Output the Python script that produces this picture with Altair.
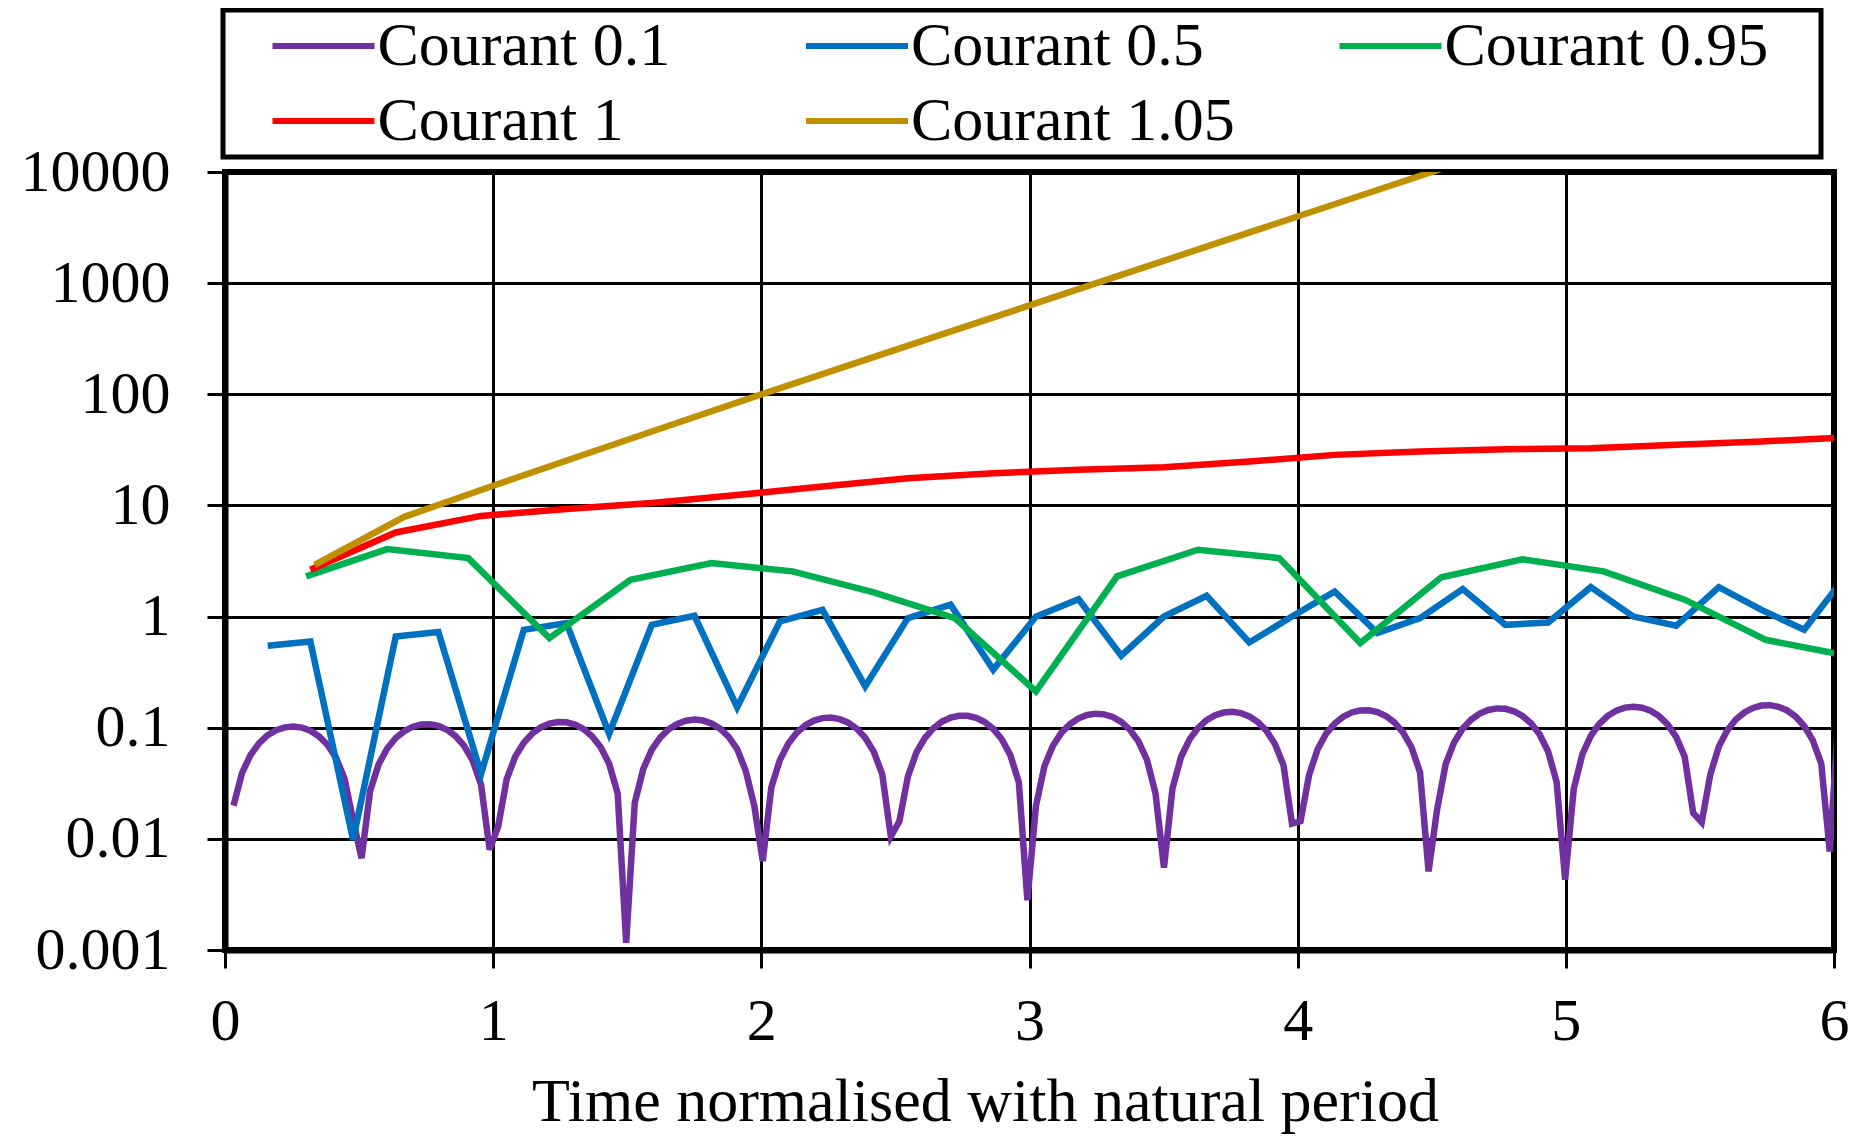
import altair as alt
import pandas as pd

SERIES = ["Courant 0.1", "Courant 0.5", "Courant 0.95", "Courant 1", "Courant 1.05"]
COLORS = ["#7030A0", "#0070C0", "#00B050", "#FF0000", "#BF9000"]
# spacing of the vertices of each series along the normalised time axis
STEPS = [0.031831, 0.159155, 0.302394, 0.318310, 0.334225]

courant_01 = [
    0.0199, 0.0392, 0.0570, 0.0727, 0.0856, 0.0951, 0.1008, 0.1026, 0.1003, 0.0939,
    0.0838, 0.0702, 0.0538, 0.0350, 0.0148, 0.0067, 0.0270, 0.0469, 0.0650, 0.0807,
    0.0932, 0.1021, 0.1069, 0.1075, 0.1038, 0.0959, 0.0842, 0.0690, 0.0509, 0.0307,
    0.0080, 0.0129, 0.0345, 0.0550, 0.0733, 0.0888, 0.1008, 0.1090, 0.1127, 0.1120,
    0.1069, 0.0973, 0.0839, 0.0670, 0.0474, 0.0257, 0.00116, 0.0210, 0.0426, 0.0634,
    0.0818, 0.0970, 0.1084, 0.1156, 0.1182, 0.1160, 0.1093, 0.0981, 0.0829, 0.0643,
    0.0410, 0.0200, 0.0063, 0.0290, 0.0511, 0.0721, 0.0905, 0.1053, 0.1159, 0.1220,
    0.1233, 0.1195, 0.1113, 0.0982, 0.0812, 0.0609, 0.0381, 0.0105, 0.0144, 0.0364,
    0.0599, 0.0811, 0.0992, 0.1134, 0.1231, 0.1281, 0.1279, 0.1225, 0.1124, 0.0975,
    0.0787, 0.0567, 0.0323, 0.0028, 0.0197, 0.0452, 0.0691, 0.0903, 0.1081, 0.1215,
    0.1302, 0.1338, 0.1319, 0.1248, 0.1128, 0.0961, 0.0755, 0.0517, 0.0259, 0.0055,
    0.0284, 0.0545, 0.0786, 0.0996, 0.1169, 0.1294, 0.1369, 0.1390, 0.1355, 0.1265,
    0.1125, 0.0939, 0.0715, 0.0461, 0.0137, 0.0144, 0.0375, 0.0641, 0.0883, 0.1090,
    0.1256, 0.1372, 0.1432, 0.1437, 0.1384, 0.1275, 0.1115, 0.0909, 0.0667, 0.0396,
    0.0051, 0.0184, 0.0471, 0.0741, 0.0982, 0.1185, 0.1342, 0.1445, 0.1492, 0.1479,
    0.1406, 0.1277, 0.1097, 0.0872, 0.0611, 0.0325, 0.0043, 0.0279, 0.0572, 0.0844,
    0.1082, 0.1279, 0.1426, 0.1516, 0.1546, 0.1514, 0.1422, 0.1273, 0.1071, 0.0827,
    0.0548, 0.0171, 0.0141, 0.0378, 0.0676, 0.0948, 0.1184, 0.1373, 0.1507, 0.1583,
    0.1595, 0.1543, 0.1431, 0.1260, 0.1037, 0.0774, 0.0477, 0.0077, 0.1200,
]
courant_05 = [
    0.546, 0.597, 0.0098, 0.662, 0.725, 0.0385, 0.760, 0.873, 0.0883, 0.843,
    1.016, 0.153, 0.904, 1.15, 0.236, 0.968, 1.28, 0.333, 1.0, 1.43,
    0.445, 1.0, 1.54, 0.585, 1.0, 1.68, 0.71, 0.968, 1.77, 0.843,
    0.885, 1.84, 1.0, 0.826, 1.84, 1.15, 0.76, 2.4,
]
courant_095 = [
    2.30, 4.05, 3.36, 0.64, 2.14, 3.03, 2.55, 1.65, 0.97, 0.212,
    2.30, 3.99, 3.36, 0.577, 2.26, 3.28, 2.55, 1.42, 0.618, 0.445,
]
courant_1 = [
    2.64, 5.71, 8.05, 9.27, 10.5, 12.4, 14.8, 17.6, 19.5, 20.9,
    22.1, 24.8, 28.5, 30.5, 32.1, 32.7, 35.1, 37.6, 41.0,
]
courant_105 = [
    2.92, 7.9, 15.1, 28.6, 53.7, 101, 187, 346, 640, 1185,
    2195, 4060, 7520, 13900,
]

X_TICKS = [0, 1, 2, 3, 4, 5, 6]
Y_TICKS = [0.001, 0.01, 0.1, 1, 10, 100, 1000, 10000]

rows = []
for name, step, vals in zip(SERIES, STEPS,
                            [courant_01, courant_05, courant_095, courant_1, courant_105]):
    for i, v in enumerate(vals):
        rows.append({"series": name, "t": round((i + 1) * step, 5), "value": v})
df = pd.DataFrame(rows)

FONT = "Liberation Serif"

color = alt.Color(
    "series:N",
    scale=alt.Scale(domain=SERIES, range=COLORS),
    legend=alt.Legend(
        title=" ",
        titleOrient="right",
        titlePadding=47.5,
        titleFontSize=2,
        orient="none",
        legendX=-2,
        legendY=-162,
        direction="horizontal",
        columns=3,
        gridAlign="all",
        columnPadding=59.5,
        rowPadding=13,
        symbolType="M-2,0L2,0",
        symbolSize=2601,
        symbolStrokeWidth=6,
        symbolOffset=64.5,
        labelOffset=23,
        labelFont=FONT,
        labelFontSize=62,
        labelColor="black",
        labelLimit=0,
        padding=5,
        strokeColor="black",
    ),
)

x = alt.X(
    "t:Q",
    scale=alt.Scale(domain=[0, 6], nice=False, zero=False),
    axis=alt.Axis(values=X_TICKS, title="Time normalised with natural period",
                  format="d", labelPadding=24.5, titlePadding=20, labelFlush=False,
                  titleX=760, titleAlign="center"),
)
y = alt.Y(
    "value:Q",
    scale=alt.Scale(type="log", domain=[0.001, 10000], nice=False),
    axis=alt.Axis(values=Y_TICKS, format="~g", title=None, labelPadding=37,
                  labelFlush=False),
)

layers = []
for name in SERIES:
    layers.append(
        alt.Chart(df)
        .transform_filter(alt.datum.series == name)
        .mark_line(clip=True, strokeWidth=6.5)
        .encode(x=x, y=y, color=color, order="t:Q")
    )

chart = (
    alt.layer(*layers)
    .properties(width=1609, height=778,
                autosize=alt.AutoSizeParams(type="none"),
                padding={"left": 217, "top": 164, "right": 16, "bottom": 187})
    .configure_view(stroke="black", strokeWidth=6)
    .configure_axis(
        domainColor="black", domainWidth=6,
        tickColor="black", tickWidth=3, tickSize=18,
        gridColor="black", gridWidth=3, gridOpacity=1,
        labelFont=FONT, labelFontSize=60, labelColor="black",
        titleFont=FONT, titleFontSize=62, titleFontWeight="normal", titleColor="black",
    )
    .configure_legend(strokeWidth=5)
)

chart.save("out.html", embed_options={"renderer": "svg", "actions": False})
